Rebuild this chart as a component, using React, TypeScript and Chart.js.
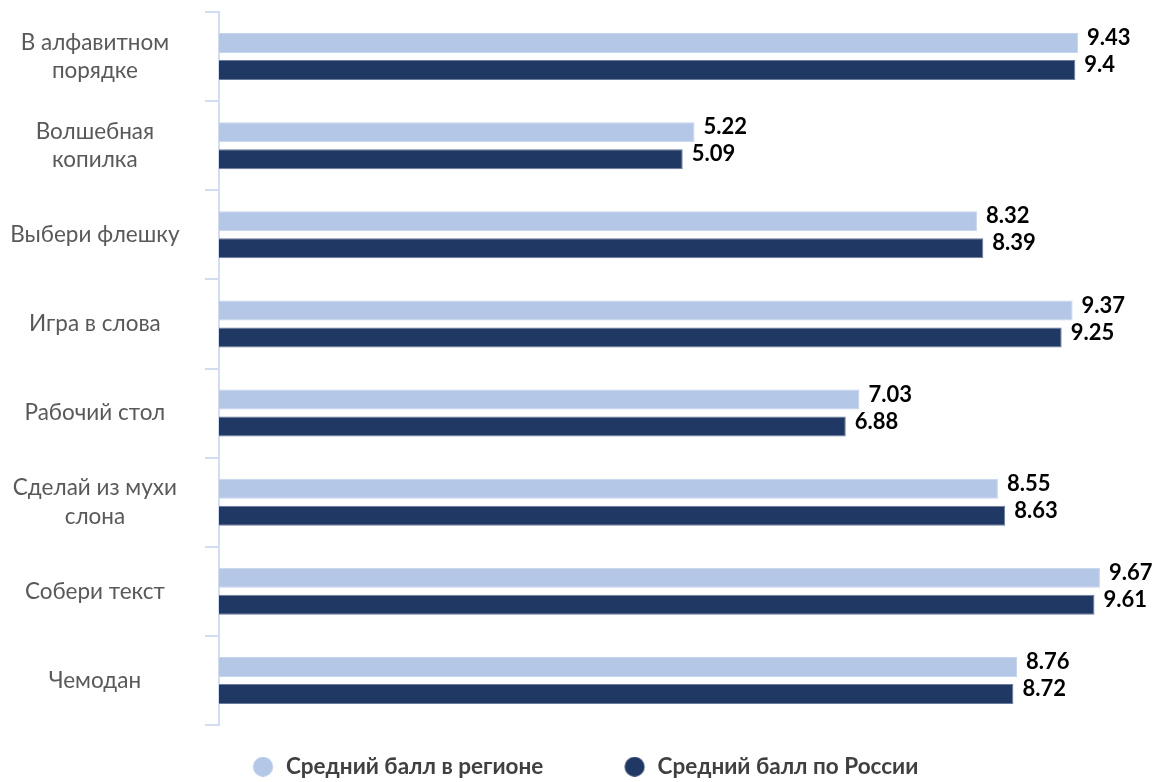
import React, { useEffect, useRef } from "react";
import { Chart, registerables } from "chart.js";

Chart.register(...registerables);

const categories: (string | string[])[] = [
  ["В алфавитном", "порядке"],
  ["Волшебная", "копилка"],
  "Выбери флешку",
  "Игра в слова",
  "Рабочий стол",
  ["Сделай из мухи", "слона"],
  "Собери текст",
  "Чемодан",
];

const regionValues = [9.43, 5.22, 8.32, 9.37, 7.03, 8.55, 9.67, 8.76];
const russiaValues = [9.4, 5.09, 8.39, 9.25, 6.88, 8.63, 9.61, 8.72];

const seriesNames = ["Средний балл в регионе", "Средний балл по России"];
const seriesColors = ["#B4C7E7", "#203864"];
const seriesBorders = ["#C6D5EE", "#6A7B9C"];

const FONT = "Lato, 'Open Sans', sans-serif";
const MARKER_W = 93;

function makeMarker(color: string): HTMLCanvasElement {
  const c = document.createElement("canvas");
  c.width = MARKER_W;
  c.height = 20;
  const g = c.getContext("2d")!;
  g.fillStyle = color;
  g.beginPath();
  g.arc(MARKER_W - 11.75, 10, 10, 0, Math.PI * 2);
  g.fill();
  return c;
}

const valueLabels = {
  id: "valueLabels",
  afterDatasetsDraw(chart: any) {
    const ctx = chart.ctx;
    ctx.save();
    ctx.font = `bold 22px ${FONT}`;
    ctx.fillStyle = "#000000";
    ctx.textAlign = "left";
    ctx.textBaseline = "middle";
    chart.data.datasets.forEach((ds: any, di: number) => {
      const meta = chart.getDatasetMeta(di);
      meta.data.forEach((bar: any, i: number) => {
        ctx.fillText(String(ds.data[i]), bar.x + 9, bar.y - 5);
      });
    });
    ctx.restore();
  },
};

export default function App() {
  const ref = useRef<HTMLCanvasElement>(null);
  useEffect(() => {
    if (!ref.current) return;
    const markers = seriesColors.map(makeMarker);
    const chart = new Chart(ref.current, {
      type: "bar",
      data: {
        labels: categories,
        datasets: [
          {
            label: seriesNames[0],
            data: regionValues,
            backgroundColor: seriesColors[0],
            borderColor: seriesBorders[0],
            borderWidth: 1,
            categoryPercentage: 0.606,
            barPercentage: 0.74,
          },
          {
            label: seriesNames[1],
            data: russiaValues,
            backgroundColor: seriesColors[1],
            borderColor: seriesBorders[1],
            borderWidth: 1,
            categoryPercentage: 0.606,
            barPercentage: 0.74,
          },
        ],
      },
      options: {
        indexAxis: "y",
        animation: false,
        responsive: true,
        maintainAspectRatio: false,
        layout: { padding: { top: 12, right: 31, bottom: -6, left: -30 } },
        scales: {
          x: {
            min: 0,
            max: 10,
            display: true,
            grid: { display: false },
            border: { display: false },
            ticks: { display: false },
            afterFit: (s: any) => {
              s.height = 20.5;
            },
          },
          y: {
            grid: {
              drawOnChartArea: false,
              color: "#D3DDF1",
              lineWidth: 2,
              tickLength: 14,
              offset: true,
            },
            border: { color: "#D3DDF1", width: 2 },
            ticks: {
              crossAlign: "center",
              padding: 25.5,
              color: "#595959",
              font: { family: FONT, size: 22.5, lineHeight: 1.25 },
            },
            afterFit: (s: any) => {
              s.width = 249;
              s.paddingTop = 0;
              s.paddingBottom = 0;
            },
          },
        },
        plugins: {
          legend: {
            position: "bottom",
            labels: {
              usePointStyle: true,
              pointStyleWidth: MARKER_W,
              boxHeight: 20,
              padding: 10,
              color: "#404040",
              font: { family: FONT, size: 22.5, weight: "bold" },
              generateLabels: (ch: any) =>
                Chart.defaults.plugins.legend.labels
                  .generateLabels(ch)
                  .map((it: any, i: number) => ({ ...it, pointStyle: markers[i] })),
            },
          },
          tooltip: { enabled: false },
        },
      },
      plugins: [valueLabels],
    });
    return () => chart.destroy();
  }, []);
  return (
    <div style={{ position: "fixed", left: 0, top: 0, width: 1161, height: 782, background: "#fff" }}>
      <canvas ref={ref} />
    </div>
  );
}
